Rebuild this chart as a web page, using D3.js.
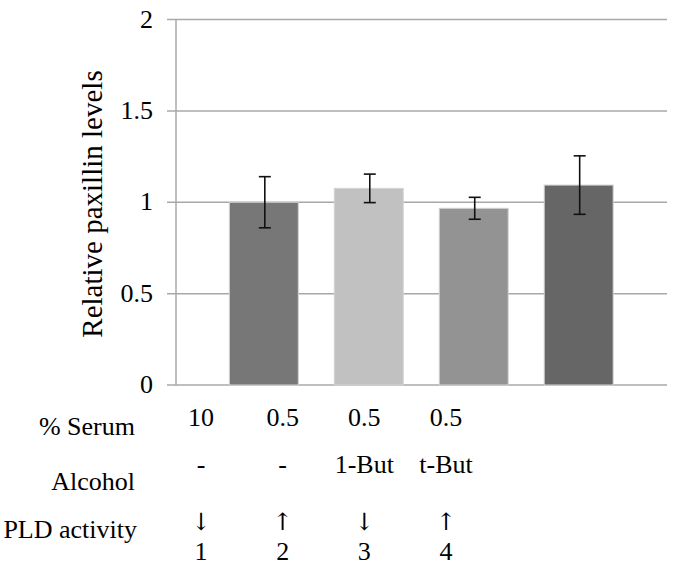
<!DOCTYPE html>
<html>
<head>
<meta charset="utf-8">
<script src="https://cdn.jsdelivr.net/npm/d3@7/dist/d3.min.js"></script>
</head>
<body style="margin:0">
<svg id="chart" width="675" height="569" font-family="Liberation Serif"></svg>
<script>
// values
let lanes = ["1", "2", "3", "4"];
let levels = [1.00, 1.076, 0.967, 1.094];
let errors = [0.14, 0.078, 0.06, 0.16];
let barColors = ["#777777", "#c1c1c1", "#939393", "#666666"];
let yTicks = [0, 0.5, 1, 1.5, 2];
let serum = ["10", "0.5", "0.5", "0.5"];
let alcohol = ["-", "-", "1-But", "t-But"];
let pld = ["\u2193", "\u2191", "\u2193", "\u2191"];

let fontName = "Liberation Serif";

let svg = d3.select("#chart");

let y = d3.scaleLinear().domain([0, 2]).range([385, 19.5]);
let x = d3.scaleBand().domain(lanes).range([211.5, 631]).paddingInner(0.343).paddingOuter(0.17);
let col = d3.scalePoint().domain(lanes).range([201, 446]);

// gridlines
svg.append("g")
    .selectAll("line")
    .data(yTicks)
    .enter().append("line")
    .attr("x1", 167)
    .attr("x2", 667)
    .attr("y1", d => y(d))
    .attr("y2", d => y(d))
    .attr("stroke", "#a8a8a8")
    .attr("stroke-width", 1.5);

// y axis line
svg.append("line")
    .attr("x1", 176).attr("x2", 176)
    .attr("y1", y(2)).attr("y2", y(0))
    .attr("stroke", "#a8a8a8")
    .attr("stroke-width", 1.5);

// right aligned text, placed from its measured width
function rightText(g, str, xr, yb, size) {
    let t = g.append("text")
        .attr("y", yb)
        .attr("font-family", fontName)
        .attr("font-size", size)
        .attr("fill", "#000")
        .text(str);
    let w = t.node().getComputedTextLength();
    t.attr("x", xr - w);
    return t;
}

// tick labels
let tickG = svg.append("g");
yTicks.forEach(d => rightText(tickG, d, 153, y(d) + 8, 26));

// bars
svg.append("g")
    .selectAll("rect")
    .data(levels)
    .enter().append("rect")
    .attr("x", (d, i) => x(lanes[i]))
    .attr("width", x.bandwidth())
    .attr("y", d => y(d))
    .attr("height", d => y(0) - y(d))
    .attr("fill", (d, i) => barColors[i])
    .attr("stroke", "#d4d4d4")
    .attr("stroke-width", 1);

// error bars
let err = svg.append("g")
    .selectAll("g")
    .data(levels)
    .enter().append("g")
    .attr("stroke", "#111")
    .attr("stroke-width", 1.6);

err.append("line")
    .attr("x1", (d, i) => x(lanes[i]) + x.bandwidth() / 2 + 1)
    .attr("x2", (d, i) => x(lanes[i]) + x.bandwidth() / 2 + 1)
    .attr("y1", (d, i) => y(d + errors[i]))
    .attr("y2", (d, i) => y(d - errors[i]));

err.append("line")
    .attr("x1", (d, i) => x(lanes[i]) + x.bandwidth() / 2 - 5)
    .attr("x2", (d, i) => x(lanes[i]) + x.bandwidth() / 2 + 7)
    .attr("y1", (d, i) => y(d + errors[i]))
    .attr("y2", (d, i) => y(d + errors[i]));

err.append("line")
    .attr("x1", (d, i) => x(lanes[i]) + x.bandwidth() / 2 - 5)
    .attr("x2", (d, i) => x(lanes[i]) + x.bandwidth() / 2 + 7)
    .attr("y1", (d, i) => y(d - errors[i]))
    .attr("y2", (d, i) => y(d - errors[i]));

// y axis title
let title = svg.append("g")
    .attr("transform", "translate(102,204) rotate(-90)")
    .append("text")
    .attr("font-family", fontName)
    .attr("font-size", 29)
    .attr("fill", "#000")
    .text("Relative paxillin levels");
title.attr("x", -title.node().getComputedTextLength() / 2);

// table under the chart
let rowG = svg.append("g");
rightText(rowG, "% Serum", 135, 435, 26);
rightText(rowG, "Alcohol", 135, 490, 26);
rightText(rowG, "PLD activity", 137, 538, 26);

function row(values, yPos, size, family) {
    svg.append("g")
        .selectAll("text")
        .data(values)
        .enter().append("text")
        .attr("x", (d, i) => col(lanes[i]))
        .attr("y", yPos)
        .attr("text-anchor", "middle")
        .attr("font-family", family || fontName)
        .attr("font-size", size)
        .attr("fill", "#000")
        .text(d => d);
}

row(serum, 426, 26);
row(alcohol, 473, 26);
row(pld, 530, 24, "DejaVu Serif");
row(lanes, 560, 26);
</script>
</body>
</html>
